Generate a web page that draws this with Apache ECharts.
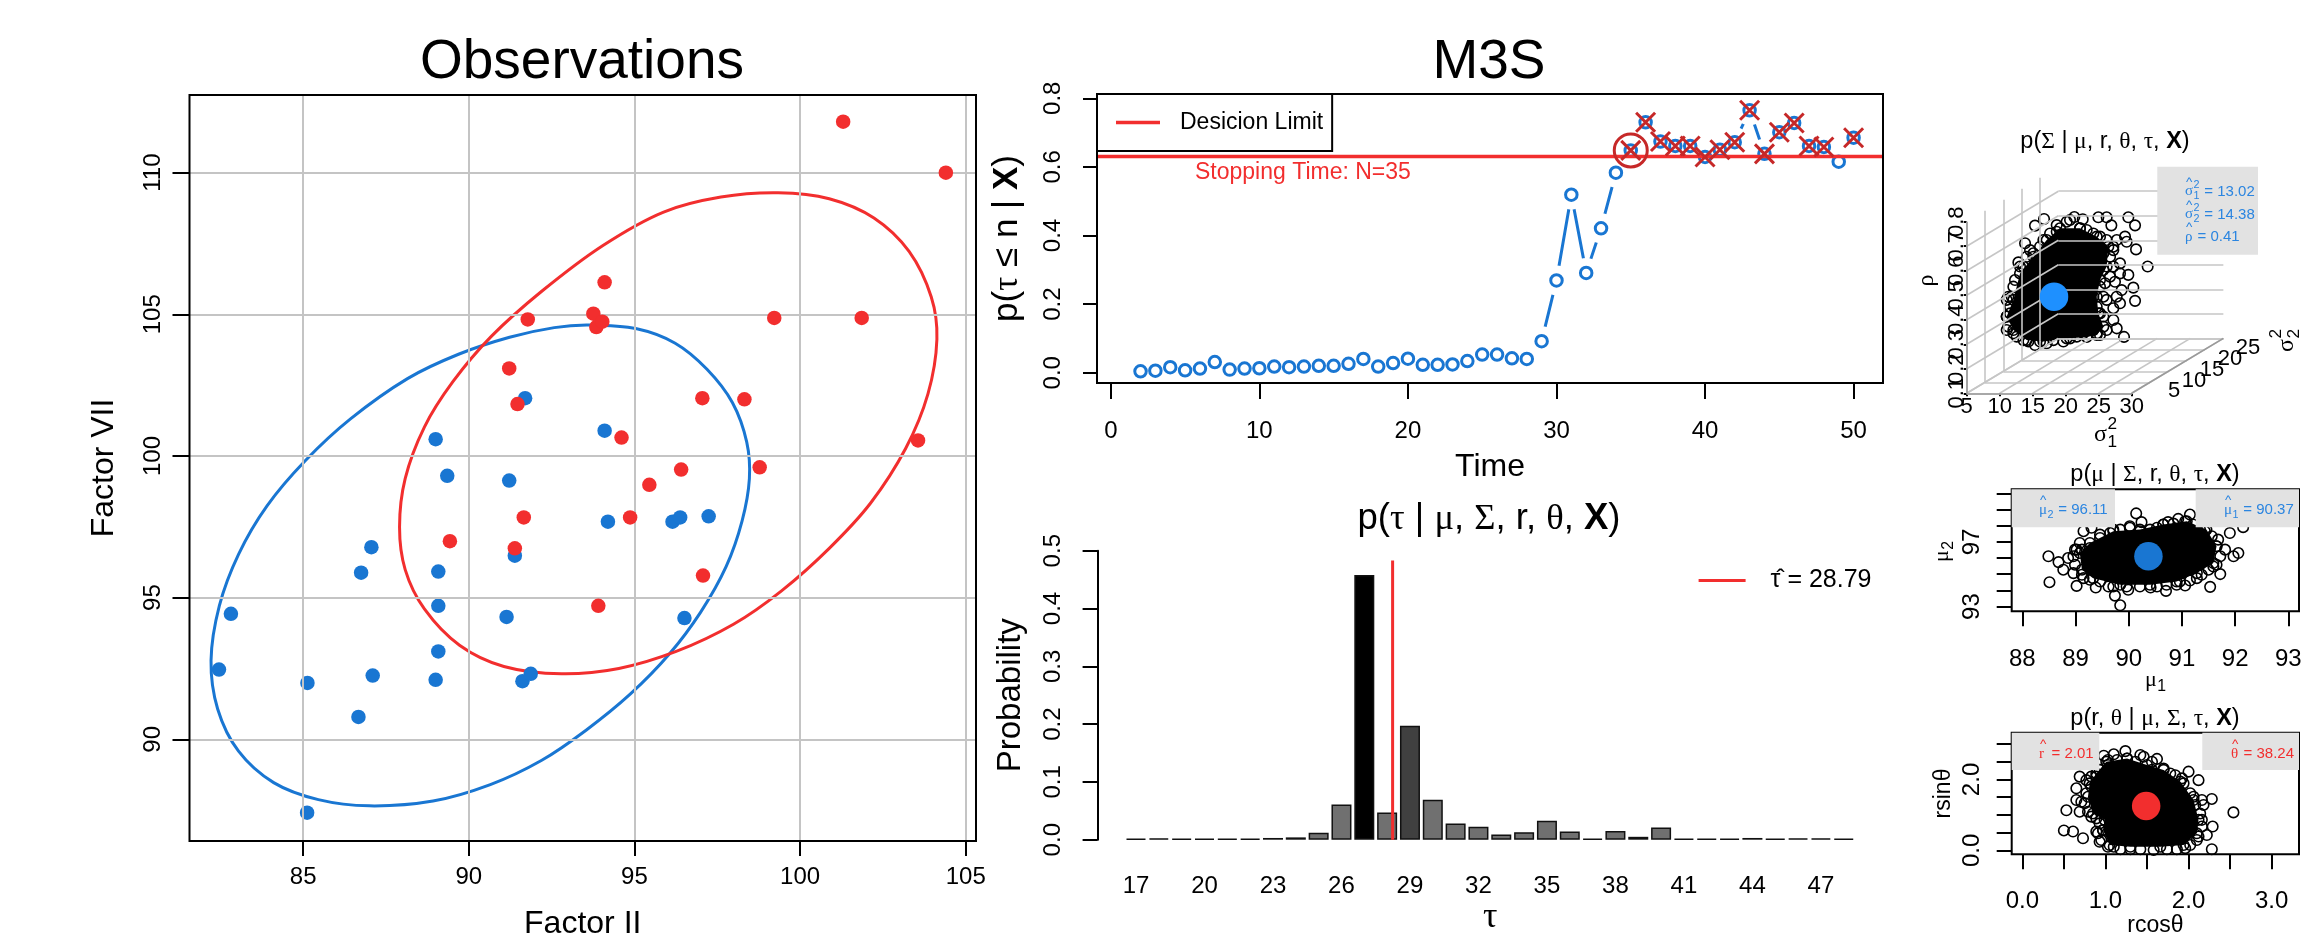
<!DOCTYPE html>
<html><head><meta charset="utf-8">
<style>html,body{margin:0;padding:0;background:#fff}#c{width:2305px;height:949px}</style>
<script src="https://cdn.jsdelivr.net/npm/echarts@6/dist/echarts.min.js"></script>
</head><body><div id="c"></div>
<script>
// ---------- DATA ----------
const factorBlue=[[82.46,92.46],[82.82,94.43],[85.12,87.41],[85.13,91.99],[86.67,90.79],[87.10,92.25],[87.06,96.78],[86.75,95.88],[89.0,100.59],[89.35,99.30],[89.08,95.92],[89.08,94.71],[89.08,93.10],[89.0,92.10],[91.14,94.32],[91.22,99.13],[91.39,96.48],[91.70,102.04],[91.62,92.05],[91.87,92.31],[94.10,100.89],[94.20,97.68],[96.15,97.68],[96.38,97.83],[97.24,97.87],[96.51,94.28]];
const factorRed=[[89.43,96.99],[91.22,103.09],[91.47,101.83],[91.78,104.82],[91.66,97.83],[91.39,96.74],[93.76,105.02],[93.85,104.55],[94.03,104.74],[94.10,106.13],[94.61,100.65],[94.87,97.83],[93.91,94.71],[95.45,98.98],[96.41,99.52],[97.05,102.04],[97.07,95.78],[98.32,102.0],[98.78,99.60],[99.22,104.87],[101.86,104.87],[101.30,111.80],[104.40,110.0],[103.56,100.55]];
const ellipseBlue=[[93.63,104.62],[95.07,104.49],[96.23,103.98],[97.19,103.06],[97.96,101.88],[98.39,100.49],[98.47,99.20],[98.25,97.71],[97.77,96.10],[97.0,94.49],[96.04,92.99],[94.88,91.60],[93.54,90.32],[92.19,89.25],[90.65,88.40],[88.92,87.82],[87.0,87.65],[85.46,87.87],[84.11,88.47],[83.05,89.58],[82.42,91.07],[82.22,92.78],[82.47,94.71],[83.05,96.53],[83.91,98.24],[85.07,99.84],[86.42,101.30],[88.15,102.73],[89.69,103.59],[91.23,104.19],[92.58,104.53]];
const ellipseRed=[[99.34,109.29],[100.88,109.08],[102.23,108.40],[103.29,107.22],[103.96,105.61],[104.13,104.12],[103.86,102.19],[103.19,100.27],[102.13,98.34],[100.88,96.74],[99.44,95.24],[97.99,94.06],[96.26,93.10],[94.53,92.50],[92.80,92.31],[91.06,92.57],[89.72,93.32],[88.66,94.60],[88.08,95.99],[87.91,97.49],[88.08,99.20],[88.66,101.02],[89.52,102.62],[90.68,104.22],[92.22,105.83],[94.05,107.43],[95.88,108.61],[97.61,109.14]];
const timeSteps=[2,3,4,5,6,7,8,9,10,11,12,13,14,15,16,17,18,19,20,21,22,23,24,25,26,27,28,29,30,31,32,33,34,35,36,37,38,39,40,41,42,43,44,45,46,47,48,49,50];
const probStop=[.004,.006,.016,.007,.012,.031,.009,.012,.013,.018,.016,.018,.020,.020,.026,.040,.018,.028,.041,.023,.023,.024,.034,.053,.053,.042,.040,.092,.269,.519,.291,.421,.583,.648,.730,.674,.661,.661,.629,.650,.672,.765,.638,.701,.728,.661,.658,.615,.685];
const crossedTimes=[35,36,37,38,39,40,41,42,43,44,45,46,47,48,50];
const decisionLimit=0.63, stopTime=35;
const tauCats=[17,18,19,20,21,22,23,24,25,26,27,28,29,30,31,32,33,34,35,36,37,38,39,40,41,42,43,44,45,46,47,48];
const tauProb=[.001,.002,.001,.001,.001,.001,.003,.004,.012,.061,.458,.047,.197,.069,.028,.0225,.009,.013,.033,.014,.0005,.015,.005,.021,.001,.001,.001,.003,.001,.002,.002,.001];
const tauLine=[[28.24,0],[28.24,.483]];
const tauTicks=[17,20,23,26,29,32,35,38,41,44,47];
// posterior clouds: outer circles and outline of the solid core
const sigmaCloud=[[16.72,.811],[15.35,.784],[13.84,.712],[12.83,.634],[14.09,.657],[20.15,.800],[21.31,.819],[22.58,.810],[24.95,.818],[26.21,.818],[26.92,.785],[29.49,.818],[30.51,.785],[27.73,.725],[28.99,.739],[29.24,.718],[30.66,.687],[32.42,.617],[28.23,.630],[29.49,.583],[27.47,.555],[25.96,.549],[30.25,.531],[30.51,.477],[28.48,.521],[28.23,.467],[27.22,.447],[25.71,.413],[27.73,.365],[28.84,.330],[26.21,.358],[25.20,.338],[11.31,.494],[11.06,.413],[11.06,.358],[12.58,.331],[14.34,.311],[16.11,.311],[18.13,.317],[20.66,.324],[22.68,.345],[24.19,.358],[26.72,.657],[25.20,.698],[26.21,.725],[24.19,.752],[22.17,.773],[18.64,.759],[16.62,.725],[15.10,.671],[13.59,.617],[12.32,.562],[11.82,.494],[11.57,.426],
[25.20,.644],[24.44,.589],[25.71,.603],[26.72,.576],[28.23,.589],[27.22,.617],[25.20,.535],[24.19,.494],[25.71,.494],[24.70,.453],[26.21,.481],[27.73,.494],[25.20,.426],[23.69,.399],[27.22,.399],[24.70,.345],[23.18,.413],[23.94,.657],[27.22,.684],[25.71,.671],[23.18,.766],[25.20,.739],[27.22,.698],[20.66,.807],[18.64,.786],[17.63,.752],[16.11,.698],[14.60,.684],[13.08,.617],[12.07,.535],[11.06,.481],[11.57,.453],[11.31,.372],[12.07,.345],[13.59,.317],[15.35,.297],[17.12,.304],[19.65,.311],[21.67,.331]];
const sigmaCore=[[12.07,.481],[13.08,.589],[15.10,.657],[17.12,.725],[19.14,.773],[22.17,.773],[24.70,.739],[26.46,.698],[26.21,.617],[25.20,.562],[24.70,.494],[24.95,.426],[25.71,.372],[24.70,.338],[23.18,.330],[20.15,.324],[16.62,.311],[14.09,.317],[12.07,.358],[11.06,.413]];
const sigmaHat=[13.02,14.38,.41];
const s1Ticks=[5,10,15,20,25,30], s2Ticks=[5,10,15,20,25,30], rhoTicks=[.1,.2,.3,.4,.5,.6,.7,.8];
const muCloud=[[88.49,96.11],[88.51,94.51],[88.68,95.75],[88.77,95.28],[88.86,96.0],[88.99,96.52],[89.08,96.93],[89.15,97.66],[89.30,97.87],[89.02,94.28],[89.38,94.18],[89.74,93.68],[89.84,93.08],[89.99,94.04],[89.62,94.24],[90.41,94.18],[90.70,93.97],[91.06,94.30],[91.53,94.22],[91.72,95.01],[91.97,96.11],[92.06,96.31],[91.81,96.52],[92.15,97.91],[91.90,97.55],[90.14,98.76],[90.24,98.22],[90.02,97.97],[90.53,97.87],[90.74,98.22],[90.93,98.42],[91.15,98.69],[91.06,98.28],[88.96,95.07],[89.15,94.76],[91.28,94.76],[90.90,94.35],[91.59,95.48],[91.68,97.14],[91.34,97.76],[89.71,97.76],[89.46,97.45],
[89.12,96.52],[89.27,96.62],[89.46,97.24],[89.65,97.55],[89.84,97.76],[90.02,97.87],[90.21,97.66],[90.40,97.76],[90.65,98.07],[90.84,98.13],[91.21,98.07],[91.43,97.66],[91.56,97.35],[91.65,96.73],[91.72,96.11],[91.65,95.59],[91.50,95.28],[91.37,94.97],[91.15,94.61],[90.96,94.55],[90.71,94.35],[90.53,94.24],[90.21,94.24],[89.96,94.24],[89.71,94.24],[89.46,94.55],[89.27,94.66],[89.12,94.97],[88.99,95.59],[88.96,96.11],[89.02,96.52]];
const muCore=[[89.08,96.31],[89.27,96.93],[89.71,97.66],[90.21,97.76],[90.65,98.07],[91.09,98.28],[91.46,97.76],[91.65,96.73],[91.59,95.69],[91.28,95.07],[90.90,94.55],[90.40,94.35],[89.84,94.35],[89.33,94.76],[89.12,95.28]];
const muHat=[90.37,96.11];
const rCloud=[[.53,1.13],[.50,.56],[.61,.53],[.73,.34],[2.54,1.07],[2.28,.03],[2.29,.67],[2.28,1.45],[2.18,1.28],[2.12,1.98],[2.0,2.22],[1.92,2.03],[1.62,2.58],[1.46,2.64],[1.42,2.69],[1.24,2.80],[1.10,2.71],[.98,2.67],[1.03,2.55],[.69,2.08],[.65,1.75],[.71,1.37],[.69,1.09],[.83,.95],[.91,.48],[.93,.24],[1.10,.10],[1.30,.03],[1.74,.03],[1.96,.06],[2.10,.29],[2.22,.43],[2.16,.86],[.77,1.98],[.83,2.08],[1.78,2.17],[1.26,2.59],[1.56,2.27],[.65,1.42],[.97,.57],[2.06,1.51],[2.16,1.42],
[.93,2.27],[.89,2.08],[.83,1.80],[.77,1.61],[.75,1.33],[.79,1.09],[.89,.90],[.93,.76],[.89,.53],[.95,.29],[1.03,.10],[1.18,.03],[1.42,.03],[1.58,.01],[1.86,.03],[2.02,.15],[2.12,.39],[2.16,.67],[2.14,1.04],[2.08,1.28],[2.02,1.61],[1.94,1.89],[1.84,2.12],[1.70,2.31],[1.56,2.50],[1.36,2.50],[1.14,2.55],[1.03,2.41]];
const rCore=[[.89,2.17],[1.01,2.5],[1.26,2.59],[1.50,2.41],[1.70,2.27],[1.90,1.94],[2.06,1.42],[2.12,.86],[2.10,.48],[1.94,.15],[1.66,.10],[1.30,.10],[1.05,.15],[.97,.57],[.99,.86],[.85,1.04],[.79,1.51],[.81,1.89]];
const rHat=[1.49,1.25];

// ---------- STYLE ----------
const FF='"Liberation Sans",Arial,sans-serif', SERIF='"Liberation Serif",serif';
const BLUE='#1976d2', RED='#f22e2e', DRED='#c62828', LBLUE='#2b85e0', GREY='#e2e2e2', GRID='#c4c4c4';
const chart=echarts.init(document.getElementById('c'),null,{renderer:'canvas'});
const rect=(l,t,r,b)=>({left:l,top:t,width:r-l,height:b-t});
const P={obs:rect(189.5,95,976,841),m3s:rect(1097,94,1883,383),tau:rect(1097.6,550.7,1883,839.7),sig:rect(1966.7,167.7,2225,393.3),mu:rect(2011.7,489.3,2299,611.3),r:rect(2011.7,732.7,2299,854.3)};
const grids=Object.values(P).map(g=>({...g,containLabel:false,show:false}));
function axis(idx,o){
  const fmt=o.fmt||(v=>String(v));
  return {type:'value',gridIndex:idx,min:o.min,max:o.max,position:o.pos,
    axisLine:{show:!!o.line,onZero:false,lineStyle:{color:'#000',width:2}},
    splitLine:{show:false},minorTick:{show:false},
    axisTick:{show:o.tickLen!==0,length:o.tickLen||15,lineStyle:{color:'#000',width:2},customValues:o.ticks||o.labels},
    axisLabel:{show:o.noLabel?false:true,fontFamily:FF,fontSize:o.size||24,color:'#000',rotate:o.rot||0,margin:o.margin||30,customValues:o.labels,formatter:fmt,interval:0,hideOverlap:false,showMinLabel:true,showMaxLabel:true},
    name:o.name||'',nameLocation:'middle',nameGap:o.gap||50,nameRotate:o.nameRot,
    nameTextStyle:{fontFamily:o.nameFF||FF,fontSize:o.nameSize||32,color:'#000',rich:{b:{fontFamily:FF,fontSize:o.nameSize||32,fontWeight:'bold',color:'#000'},g:{fontFamily:SERIF,fontSize:o.nameSize||32,color:'#000'}}}};
}
const xAxes=[
 axis(0,{min:81.57,max:105.31,labels:[85,90,95,100,105],tickLen:15,margin:24,name:'Factor II',gap:67,nameSize:32}),
 axis(1,{min:-.93,max:51.98,labels:[0,10,20,30,40,50],tickLen:16,margin:36,name:'Time',gap:68,nameSize:32}),
 axis(2,{min:15.318,max:49.72,labels:tauTicks,tickLen:0,margin:35,name:'τ',gap:55,nameFF:SERIF,nameSize:36}),
 axis(3,{min:5,max:44.14,labels:s1Ticks,tickLen:3,margin:3,size:22,name:''}),
 axis(4,{min:87.8,max:93.2,labels:[88,89,90,91,92,93],tickLen:15,margin:36,size:24}),
 axis(5,{min:-.128,max:3.329,ticks:[0,.5,1,1.5,2,2.5,3],labels:[0,1,2,3],tickLen:15,margin:35,size:24,fmt:v=>v.toFixed(1),name:'rcosθ',gap:60,nameSize:23})
];
const yAxes=[
 axis(0,{min:86.41,max:112.74,labels:[90,95,100,105,110],rot:90,tickLen:17,margin:24,name:'Factor VII',gap:69,nameSize:32,nameRot:90}),
 axis(1,{min:-.03,max:.8125,labels:[0,.2,.4,.6,.8],rot:90,tickLen:14,margin:32,fmt:v=>v.toFixed(1),name:'p({g|τ} ≤ n | {b|X})',gap:72,nameSize:35,nameRot:90}),
 axis(2,{min:0,max:.5,labels:[0,.1,.2,.3,.4,.5],rot:90,line:true,tickLen:15,margin:32,fmt:v=>v.toFixed(1),name:'Probability',gap:70,nameSize:33,nameRot:90}),
 axis(3,{min:.1,max:1.0202,labels:rhoTicks,noLabel:true,rot:90,tickLen:3,margin:2,size:22,fmt:v=>v.toFixed(1),name:'ρ',gap:28,nameSize:24,nameFF:SERIF,nameRot:90}),
 axis(4,{min:92.71,max:100.25,ticks:[93,94,95,96,97,98,99,100],labels:[93,97],rot:90,tickLen:15,margin:27,size:24}),
 axis(5,{min:-.113,max:3.32,ticks:[0,.5,1,1.5,2,2.5,3],labels:[0,2],rot:90,tickLen:15,margin:27,size:24,fmt:v=>v.toFixed(1),name:'rsinθ',gap:57,nameSize:23,nameRot:90})
];
xAxes[4].axisTick.customValues=[88,89,90,91,92,93];

// ---------- SERIES ----------
const proj=(s1,s2,rho)=>[s1+(s2-5)*.5556,rho+(s2-5)*.00897];
const seg=(a,b)=>[{coord:proj(...a)},{coord:proj(...b)}];
const wall=[];
rhoTicks.forEach(r=>{wall.push(seg([5,5,r],[5,30,r]));wall.push(seg([5,30,r],[30,30,r]));});
s1Ticks.forEach(s=>{wall.push(seg([s,5,.1],[s,30,.1]));wall.push(seg([s,30,.1],[s,30,.8]));});
s2Ticks.forEach(s=>{wall.push(seg([5,s,.1],[30,s,.1]));wall.push(seg([5,s,.1],[5,s,.8]));});
const edge=[seg([5,5,.1],[30,5,.1]),seg([5,5,.1],[5,5,.8]),seg([30,5,.1],[30,30,.1])];
const on=i=>({xAxisIndex:i,yAxisIndex:i,animation:false,silent:true});
const mkl=(data,color,width)=>({silent:true,symbol:'none',animation:false,label:{show:false},lineStyle:{color,width,type:'solid',opacity:1},data});
const solid=c=>({color:c,opacity:1});
function cloud(i,outer,core,hat,color){
  return [
    {...on(i),type:'custom',z:3,clip:false,data:core,encode:{x:0,y:1},renderItem(p,api){
      if(p.dataIndex!==0)return;
      return {type:'polygon',shape:{points:core.map(c=>api.coord(c))},style:{fill:'#000'}};}},
    {...on(i),type:'scatter',z:4,clip:false,data:outer.concat(core),symbol:'circle',symbolSize:10.5,itemStyle:{color:'rgba(0,0,0,0)',borderColor:'#000',borderWidth:1.6,opacity:1}},
    {...on(i),type:'scatter',z:5,clip:false,data:[hat],symbol:'circle',symbolSize:28.5,itemStyle:solid(color)}
  ];
}
// closed smooth curve through the points (Catmull-Rom tangents)
function closedCurve(points,color){
  return {...on(0),type:'custom',z:3,clip:false,data:points,encode:{x:0,y:1},renderItem(p,api){
    if(p.dataIndex!==0)return;
    const q=points.map(c=>api.coord(c)),n=q.length;
    let d='M'+q[0][0]+','+q[0][1];
    for(let k=0;k<n;k++){
      const a=q[(k+n-1)%n],b=q[k],c=q[(k+1)%n],e=q[(k+2)%n];
      d+='C'+(b[0]+(c[0]-a[0])/6)+','+(b[1]+(c[1]-a[1])/6)+','+(c[0]-(e[0]-b[0])/6)+','+(c[1]-(e[1]-b[1])/6)+','+c[0]+','+c[1];
    }
    return {type:'path',shape:{pathData:d},style:{fill:'none',stroke:color,lineWidth:3}};
  }};
}
const m3sPts=timeSteps.map((t,k)=>[t,probStop[k]]);
const series=[
 // Observations
 {...on(0),type:'line',z:1,data:[],markLine:mkl([85,90,95,100,105].map(v=>({xAxis:v})).concat([90,95,100,105,110].map(v=>({yAxis:v}))),GRID,2)},
 closedCurve(ellipseBlue,BLUE),
 closedCurve(ellipseRed,RED),
 {...on(0),type:'scatter',z:4,data:factorBlue,symbolSize:14.5,itemStyle:solid(BLUE)},
 {...on(0),type:'scatter',z:5,data:factorRed,symbolSize:14.5,itemStyle:solid(RED)},
 // M3S
 {...on(1),type:'line',z:2,data:m3sPts,showSymbol:false,lineStyle:{color:BLUE,width:3}},
 {...on(1),type:'scatter',z:3,clip:true,data:m3sPts,symbolSize:30,itemStyle:solid('#fff')},
 {...on(1),type:'scatter',z:4,data:m3sPts,symbolSize:11.5,itemStyle:{color:'rgba(255,255,255,0)',borderColor:BLUE,borderWidth:3,opacity:1}},
 {...on(1),name:'Desicion Limit',type:'line',z:5,data:[[-.93,decisionLimit],[51.98,decisionLimit]],showSymbol:false,symbol:'none',itemStyle:{color:RED},lineStyle:{color:RED,width:3.5}},
 {...on(1),type:'scatter',z:6,data:m3sPts.filter(p=>crossedTimes.includes(p[0])),symbol:'path://M0,0L10,10M10,0L0,10',symbolSize:19,itemStyle:{color:'rgba(0,0,0,0)',borderColor:DRED,borderWidth:3,opacity:1}},
 {...on(1),type:'scatter',z:7,data:m3sPts.filter(p=>p[0]===stopTime),symbolSize:33,itemStyle:{color:'rgba(0,0,0,0)',borderColor:DRED,borderWidth:3,opacity:1}},
 // tau histogram
 {...on(2),type:'bar',z:3,data:tauCats.map((c,k)=>[c,tauProb[k]]),barWidth:20,barMinHeight:1,
   itemStyle:{borderColor:'#111',borderWidth:1.5,color:p=>p.value[1]>.4?'#000':p.value[1]>.1?'#404040':'#707070'}},
 {...on(2),name:'τ̂ = 28.79',type:'line',z:4,data:tauLine,showSymbol:false,symbol:'none',itemStyle:{color:RED},lineStyle:{color:RED,width:3}},
 // Sigma 3D
 {...on(3),type:'line',z:1,data:[],markLine:mkl(wall,'#c6c6c6',1.6)},
 {...on(3),type:'line',z:2,data:[],markLine:mkl(edge,'#9a9a9a',1.6)},
 ...cloud(3,sigmaCloud,sigmaCore,proj(...sigmaHat),'#1e90ff'),
 // mu
 ...cloud(4,muCloud,muCore,muHat,BLUE),
 // r theta
 ...cloud(5,rCloud,rCore,rHat,RED)
];

// ---------- TEXT / BOXES ----------
const richT=s=>({fontFamily:FF,fontSize:s,fontWeight:'normal',color:'#000',rich:{b:{fontFamily:FF,fontSize:s,fontWeight:'bold',color:'#000'},g:{fontFamily:SERIF,fontSize:s,fontWeight:'normal',color:'#000'}}});
const ttl=(text,x,y,s)=>({text,left:x,top:y-s*.45,textAlign:'center',padding:0,textStyle:richT(s)});
const titles=[
 ttl('Observations',582,60,55),
 ttl('M3S',1489,60,55),
 ttl('p({g|τ} | {g|μ}, {g|Σ}, r, {g|θ}, {b|X})',1489,517,36.5),
 ttl('p({g|Σ} | {g|μ}, r, {g|θ}, {g|τ}, {b|X})',2105,140,23.5),
 ttl('p({g|μ} | {g|Σ}, r, {g|θ}, {g|τ}, {b|X})',2155,473,23.5),
 ttl('p(r, {g|θ} | {g|μ}, {g|Σ}, {g|τ}, {b|X})',2155,717,23.5)
];
const Z=100;
const T=(x,y,text,size,color,o={})=>({type:'text',x,y,z:Z+2,silent:true,rotation:o.rot||0,style:{text,fontFamily:o.ff||FF,fontSize:size,fill:color||'#000',align:o.align||'left',verticalAlign:'middle',fontWeight:o.w||'normal'}});
function math(x,y,b,sub,sup,rest,size,color,hat){
  const bw=size*.56, els=[T(0,0,b,size,color,{ff:SERIF})];
  if(hat)els.push(T(bw/2,-size*.62,'^',size*.9,color,{align:'center'}));
  let w=bw;
  if(sub)els.push(T(bw,size*.32,sub,size*.72,color));
  if(sup)els.push(T(bw,-size*.45,sup,size*.72,color));
  if(sub||sup)w+=size*.45;
  if(rest)els.push(T(w,0,rest,size,color));
  return els.map(e=>({...e,x:e.x+x,y:e.y+y}));
}
function rotGroup(x,y,children){return {type:'group',x,y,rotation:Math.PI/2,z:Z+2,silent:true,children};}
const frame=(p)=>({type:'rect',z:Z,silent:true,shape:{x:p.left,y:p.top,width:p.width,height:p.height},style:{fill:'none',stroke:'#000',lineWidth:2}});
const grey=(l,t,r,b)=>({type:'rect',z:Z+1,silent:true,shape:{x:l,y:t,width:r-l,height:b-t},style:{fill:GREY}});
const graphic=[
 frame(P.obs),frame(P.m3s),frame(P.mu),frame(P.r),
 T(1195,173,'Stopping Time: N=35',23,RED),
 grey(2157.3,166.7,2258,254.7),
 ...math(2185,191.5,'σ','1','2',' = 13.02',15,LBLUE,true),
 ...math(2185,214.5,'σ','2','2',' = 14.38',15,LBLUE,true),
 ...math(2185,237,'ρ','','',' = 0.41',15,LBLUE,true),
 grey(2011.7,489.3,2115,527.3),grey(2195.7,489.3,2299,527.3),
 ...math(2039,510,'μ','2','',' = 96.11',15,LBLUE,true),
 ...math(2224,510,'μ','1','',' = 90.37',15,LBLUE,true),
 grey(2011.7,732.7,2099.3,770),grey(2202.3,732.7,2299,770),
 ...math(2039,754,'r','','',' = 2.01',15,RED,true),
 ...math(2231,754,'θ','','',' = 38.24',15,RED,true),
 // axis symbols with sub/superscripts
 ...math(2094,435,'σ','1','2','',24,'#000',false),
 rotGroup(2287,352,math(0,0,'σ','2','2','',24,'#000',false)),
 ...math(2145,680,'μ','1','','',22,'#000',false),
 rotGroup(1942,562,math(0,0,'μ','2','','',22,'#000',false)),
 // rho axis tick labels, every one drawn (they overlap in the reference)
 ...rhoTicks.map(r=>T(1957,393.3-(r-.1)*245.1,r.toFixed(1),22,'#000',{align:'center',rot:Math.PI/2})),
 // sigma_2 axis tick labels
 T(2174,391,'5',22,'#000',{align:'center'}),T(2194,381,'10',22,'#000',{align:'center'}),T(2212,370,'15',22,'#000',{align:'center'}),T(2230,359,'20',22,'#000',{align:'center'}),T(2248,348,'25',22,'#000',{align:'center'})
];

chart.setOption({
 animation:false,backgroundColor:'#fff',
 title:titles,grid:grids,xAxis:xAxes,yAxis:yAxes,series,graphic:{elements:graphic},
 legend:[
  {data:['Desicion Limit'],left:1097,top:94,orient:'vertical',icon:'rect',itemWidth:44,itemHeight:3.5,itemGap:0,padding:[17,9,17,19],borderColor:'#000',borderWidth:2,selectedMode:false,textStyle:{fontFamily:FF,fontSize:23,color:'#000',padding:[0,0,0,15]}},
  {data:['τ̂ = 28.79'],left:1698.6,top:568,orient:'vertical',icon:'rect',itemWidth:47,itemHeight:3,padding:0,selectedMode:false,textStyle:{fontFamily:FF,fontSize:25,color:'#000',padding:[0,0,0,20]}}
 ]
});
</script></body></html>
